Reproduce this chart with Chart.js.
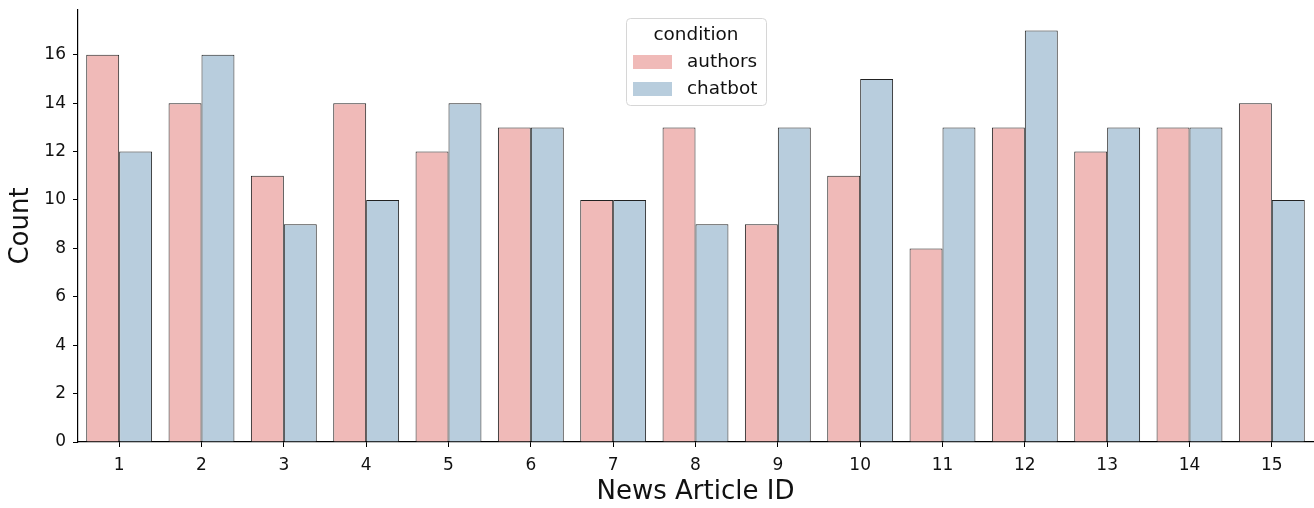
<!DOCTYPE html>
<html>
<head>
<meta charset="utf-8">
<script src="https://cdn.jsdelivr.net/npm/chart.js@4/dist/chart.umd.min.js"></script>
<style>
  html, body { margin: 0; padding: 0; background: #fff; }
  #wrap { width: 1314px; height: 508px; }
</style>
</head>
<body>
<div id="wrap"><canvas id="chart"></canvas></div>
<script>
const articleIds = ['1','2','3','4','5','6','7','8','9','10','11','12','13','14','15'];
const authorsCounts = [16, 14, 11, 14, 12, 13, 10, 13, 9, 11, 8, 13, 12, 13, 14];
const chatbotCounts = [12, 16, 9, 10, 14, 13, 10, 9, 13, 15, 13, 17, 13, 13, 10];
const yTicks = [0, 2, 4, 6, 8, 10, 12, 14, 16];
const legendTitle = 'condition';

const font = '"DejaVu Sans", sans-serif';

// legend drawn inside the plot like the seaborn one
const legendBox = {
  id: 'legendBox',
  afterDraw(chart) {
    const c = chart.ctx;
    const x = 626, y = 18, w = 140, h = 87;
    c.save();
    c.fillStyle = 'rgba(255,255,255,0.8)';
    c.strokeStyle = '#d6d6d6';
    c.lineWidth = 1;
    c.beginPath();
    c.roundRect(x + 0.5, y + 0.5, w, h, 4);
    c.fill();
    c.stroke();
    c.fillStyle = '#111';
    c.font = '18.4px ' + font;
    c.textAlign = 'center';
    c.textBaseline = 'middle';
    c.fillText(legendTitle, x + w / 2, y + 17);
    c.textAlign = 'left';
    chart.data.datasets.forEach((ds, i) => {
      const ey = y + 44 + i * 27;
      c.fillStyle = ds.backgroundColor;
      c.fillRect(633, ey - 7, 39, 14);
      c.fillStyle = '#111';
      c.fillText(ds.label, 687, ey);
    });
    c.restore();
  }
};

const ctx = document.getElementById('chart').getContext('2d');
new Chart(ctx, {
  type: 'bar',
  data: {
    labels: articleIds,
    datasets: [
      { label: 'authors', data: authorsCounts, backgroundColor: '#f0bab8',
        borderColor: '#222', borderWidth: 1 },
      { label: 'chatbot', data: chatbotCounts, backgroundColor: '#b8cddd',
        borderColor: '#222', borderWidth: 1 }
    ]
  },
  options: {
    responsive: true,
    maintainAspectRatio: false,
    animation: false,
    layout: { padding: { left: 0, right: 1, top: 10, bottom: 0 } },
    datasets: { bar: { categoryPercentage: 0.8, barPercentage: 1.0 } },
    plugins: {
      legend: { display: false },
      tooltip: { enabled: false }
    },
    scales: {
      x: {
        grid: { display: true, drawOnChartArea: false, drawTicks: true, tickLength: 5,
                color: '#000', offset: false },
        border: { display: true, color: '#000', width: 1.2 },
        ticks: { color: '#111', font: { family: font, size: 17 }, padding: 8, maxRotation: 0 },
        title: { display: true, text: 'News Article ID', color: '#111',
                 font: { family: font, size: 26 }, padding: { top: 6, bottom: 0 } },
        afterFit(axis) { axis.height = 66; axis.paddingLeft = 0; axis.paddingRight = 0; }
      },
      y: {
        min: 0,
        max: 17.85,
        afterBuildTicks(axis) { axis.ticks = yTicks.map(v => ({ value: v })); },
        grid: { display: true, drawOnChartArea: false, drawTicks: true, tickLength: 5,
                color: '#000' },
        border: { display: true, color: '#000', width: 1.2 },
        ticks: { color: '#111', font: { family: font, size: 17 }, padding: 7 },
        title: { display: true, text: 'Count', color: '#111',
                 font: { family: font, size: 26 }, padding: { top: 6, bottom: 8 } },
        afterFit(axis) { axis.width = 78; axis.paddingTop = 0; axis.paddingBottom = 0; }
      }
    }
  },
  plugins: [legendBox]
});
</script>
</body>
</html>
